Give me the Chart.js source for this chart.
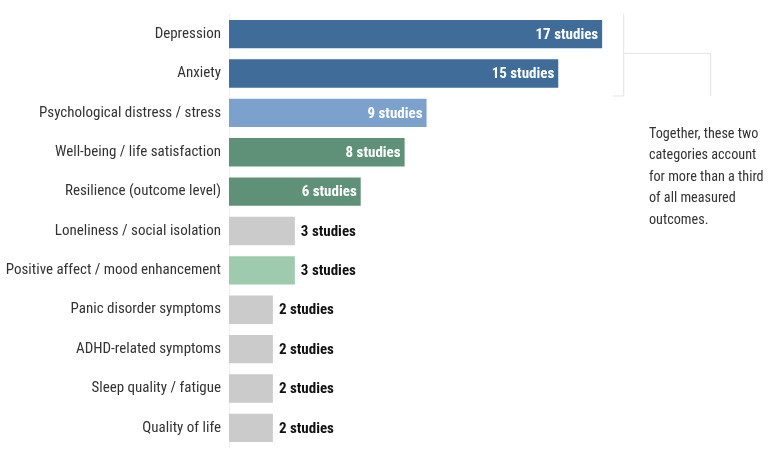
<!DOCTYPE html>
<html>
<head>
<meta charset="utf-8">
<script src="https://cdn.jsdelivr.net/npm/chart.js@4.4.0/dist/chart.umd.min.js"></script>
<style>
  html, body { margin: 0; padding: 0; background: #ffffff; }
  #wrap { width: 781px; height: 455px; position: relative; }
</style>
</head>
<body>
<div id="wrap"><canvas id="c" width="781" height="455"></canvas></div>
<script>
const categories = [
  "Depression",
  "Anxiety",
  "Psychological distress / stress",
  "Well-being / life satisfaction",
  "Resilience (outcome level)",
  "Loneliness / social isolation",
  "Positive affect / mood enhancement",
  "Panic disorder symptoms",
  "ADHD-related symptoms",
  "Sleep quality / fatigue",
  "Quality of life"
];
const studies = [17, 15, 9, 8, 6, 3, 3, 2, 2, 2, 2];
const barColors = [
  "#3f6c98", "#3f6c98", "#7ba1cc", "#5f9178", "#5f9178",
  "#cbcbcb", "#9ecaae", "#cbcbcb", "#cbcbcb", "#cbcbcb", "#cbcbcb"
];
const annotationLines = [
  "Together, these two",
  "categories account",
  "for more than a third",
  "of all measured",
  "outcomes."
];
const FONT = "'Roboto Condensed', Roboto, sans-serif";

const valueLabels = {
  id: 'valueLabels',
  afterDatasetsDraw(chart) {
    const ctx = chart.ctx;
    const meta = chart.getDatasetMeta(0);
    ctx.save();
    ctx.font = "bold 15px " + FONT;
    ctx.textBaseline = 'middle';
    meta.data.forEach((bar, i) => {
      const v = studies[i];
      const txt = v + " studies";
      if (v >= 6) {
        ctx.fillStyle = '#ffffff';
        ctx.textAlign = 'right';
        ctx.fillText(txt, bar.x - 4, bar.y + 1);
      } else {
        ctx.fillStyle = '#111111';
        ctx.textAlign = 'left';
        ctx.fillText(txt, bar.x + 6, bar.y + 1);
      }
    });
    ctx.restore();
  }
};

const bracket = {
  id: 'bracket',
  afterDraw(chart) {
    const ctx = chart.ctx;
    const xs = chart.scales.x, ys = chart.scales.y;
    const x1 = xs.getPixelForValue(studies[0]) + 21;
    const yTop = ys.getPixelForValue(0) - 20;
    const yBot = ys.getPixelForValue(1) + 22;
    const yMid = (yTop + yBot) / 2 - 2;
    const x2 = x1 + 87;
    ctx.save();
    ctx.strokeStyle = '#e4e4e4';
    ctx.lineWidth = 1;
    ctx.beginPath();
    ctx.moveTo(x1 + 0.5, yTop);
    ctx.lineTo(x1 + 0.5, yBot + 0.5);
    ctx.lineTo(x1 - 10, yBot + 0.5);
    ctx.moveTo(x1 + 0.5, yMid + 0.5);
    ctx.lineTo(x2 + 0.5, yMid + 0.5);
    ctx.lineTo(x2 + 0.5, yBot + 0.5);
    ctx.stroke();
    ctx.fillStyle = '#333333';
    ctx.font = "14.2px " + FONT;
    ctx.textAlign = 'left';
    ctx.textBaseline = 'middle';
    annotationLines.forEach((l, i) => {
      ctx.fillText(l, 649, 134 + i * 21.5);
    });
    ctx.restore();
  }
};

new Chart(document.getElementById('c'), {
  type: 'bar',
  data: {
    labels: categories,
    datasets: [{
      data: studies,
      backgroundColor: barColors,
      borderWidth: 0,
      categoryPercentage: 0.72,
      barPercentage: 1.0
    }]
  },
  options: {
    indexAxis: 'y',
    responsive: false,
    animation: false,
    devicePixelRatio: 1,
    layout: { padding: { top: 14.5, bottom: 7.5, left: 0, right: 113 } },
    plugins: { legend: { display: false }, tooltip: { enabled: false } },
    scales: {
      x: { display: false, min: 0, max: 20 },
      y: {
        afterFit(scale) { scale.width = 229; scale.paddingTop = 0; scale.paddingBottom = 0; },
        grid: { display: false, drawTicks: false },
        border: { display: true, color: '#f0f0f0' },
        ticks: { color: '#333333', padding: 8, font: { family: FONT, size: 15 } }
      }
    }
  },
  plugins: [valueLabels, bracket]
});
</script>
</body>
</html>
